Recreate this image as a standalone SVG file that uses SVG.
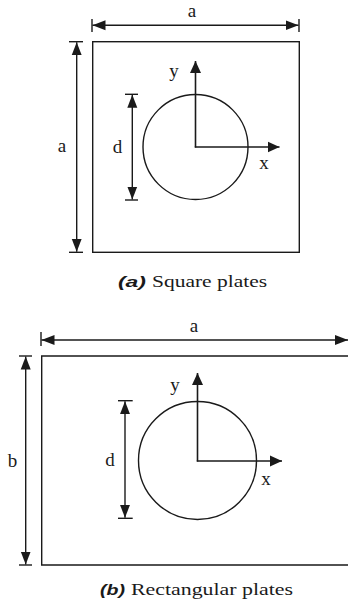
<svg xmlns="http://www.w3.org/2000/svg" width="348" height="605" viewBox="0 0 348 605">
<style>
.ln{stroke:#1a1a1a;stroke-width:1.4;fill:none}
.dim{stroke:#1a1a1a;stroke-width:1.4;fill:none;marker-start:url(#arr);marker-end:url(#arr)}
.ax{stroke:#1a1a1a;stroke-width:1.6;fill:none;marker-end:url(#arr2)}
.lbl{font-family:"Liberation Serif","Times New Roman",serif;font-size:19px;fill:#1a1a1a;text-anchor:middle}
.capb{font-family:"Liberation Sans",Arial,sans-serif;font-size:15px;font-weight:bold;font-style:italic;fill:#1a1a1a}
.cap{font-family:"Liberation Serif","Times New Roman",serif;font-size:17px;fill:#1a1a1a}
</style>
<defs>
<marker id="arr" markerUnits="userSpaceOnUse" markerWidth="14" markerHeight="11" refX="13" refY="5" orient="auto-start-reverse" viewBox="0 0 14 10">
<path d="M0,0 L13,5 L0,10 z" fill="#1a1a1a"/>
</marker>
<marker id="arr2" markerUnits="userSpaceOnUse" markerWidth="13" markerHeight="12" refX="12" refY="5.5" orient="auto" viewBox="0 0 13 11">
<path d="M0,0 L12,5.5 L0,11 z" fill="#1a1a1a"/>
</marker>
</defs>

<g id="square-plate">
<rect class="ln" x="92.7" y="41.7" width="206.6" height="210.6"/>
<circle class="ln" cx="195.5" cy="147" r="52.5"/>
</g>
<g id="rect-plate">
<path class="ln" d="M352,356 L41.7,356 L41.7,565 L352,565"/>
<circle class="ln" cx="197.5" cy="460.5" r="59"/>
</g>

<g id="connectors">
<line class="ln" x1="92" y1="19" x2="92" y2="32"/>
<line class="ln" x1="299" y1="19" x2="299" y2="32"/>
<line class="dim" x1="92.5" y1="25.3" x2="298.5" y2="25.3"/>
<line class="ln" x1="69" y1="41.7" x2="83" y2="41.7"/>
<line class="ln" x1="69" y1="252.3" x2="83" y2="252.3"/>
<line class="dim" x1="76.7" y1="42.2" x2="76.7" y2="251.8"/>
<line class="ln" x1="125" y1="94.3" x2="138" y2="94.3"/>
<line class="ln" x1="125" y1="200" x2="138" y2="200"/>
<line class="dim" x1="132.3" y1="94.8" x2="132.3" y2="199.5"/>
<line class="ax" x1="195.5" y1="147.5" x2="195.5" y2="61"/>
<line class="ax" x1="194.8" y1="147" x2="279.5" y2="147"/>

<line class="ln" x1="41" y1="332" x2="41" y2="346"/>
<line class="dim" x1="41.5" y1="340" x2="348" y2="340"/>
<line class="ln" x1="19" y1="356" x2="32" y2="356"/>
<line class="ln" x1="19" y1="565" x2="32" y2="565"/>
<line class="dim" x1="25.7" y1="356.5" x2="25.7" y2="564.5"/>
<line class="ln" x1="118" y1="400.7" x2="132.7" y2="400.7"/>
<line class="ln" x1="118" y1="518.3" x2="132.7" y2="518.3"/>
<line class="dim" x1="125" y1="401.2" x2="125" y2="517.8"/>
<line class="ax" x1="197.5" y1="461.5" x2="197.5" y2="373"/>
<line class="ax" x1="196.8" y1="461" x2="282" y2="461"/>
</g>

<g id="labels">
<text class="lbl" x="192" y="17">a</text>
<text class="lbl" x="62" y="152">a</text>
<text class="lbl" x="174" y="77">y</text>
<text class="lbl" x="264" y="169">x</text>
<text class="lbl" x="117.5" y="153">d</text>
<text class="capb" x="118" y="287" textLength="28" lengthAdjust="spacingAndGlyphs">(a)</text>
<text class="cap" x="152" y="287" textLength="115" lengthAdjust="spacingAndGlyphs">Square plates</text>

<text class="lbl" x="194" y="332">a</text>
<text class="lbl" x="12.5" y="467">b</text>
<text class="lbl" x="175" y="391">y</text>
<text class="lbl" x="266" y="485">x</text>
<text class="lbl" x="110" y="466">d</text>
<text class="capb" x="100" y="595" textLength="25" lengthAdjust="spacingAndGlyphs">(b)</text>
<text class="cap" x="131" y="595" textLength="162" lengthAdjust="spacingAndGlyphs">Rectangular plates</text>
</g>
</svg>
